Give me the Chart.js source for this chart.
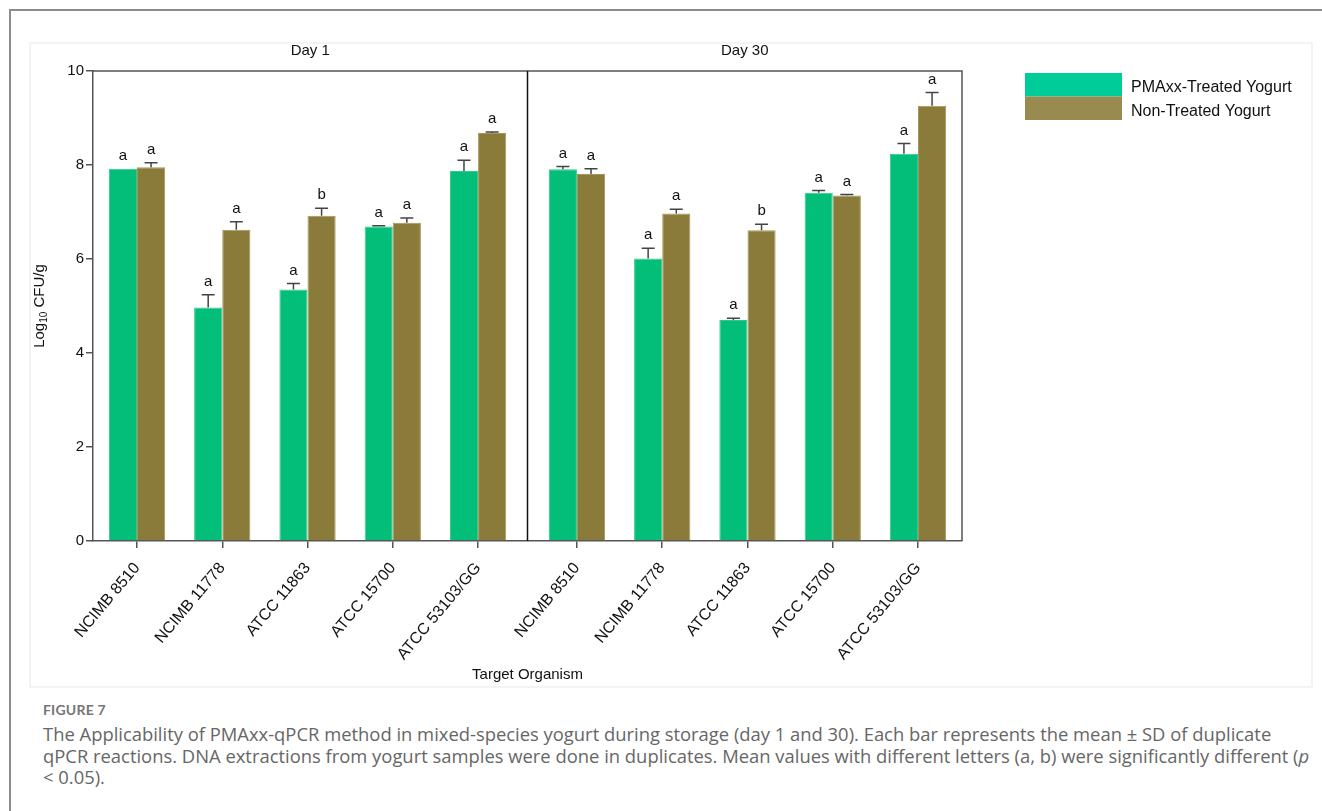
<!DOCTYPE html>
<html>
<head>
<meta charset="utf-8">
<script src="https://cdn.jsdelivr.net/npm/chart.js@4.4.1/dist/chart.umd.min.js"></script>
<style>
  html, body { margin: 0; padding: 0; background: #fff; }
  body { width: 1322px; height: 811px; position: relative; overflow: hidden; }
  #frame { position: absolute; left: 9px; top: 9px; right: -10px; bottom: -10px;
           border-left: 2px solid #8c8c8c; border-top: 2px solid #8c8c8c; }
  #panel { position: absolute; left: 29px; top: 42px; width: 1280px; height: 642px;
           border: 2px solid #f3f3f3; background: #fff; }
  #chart { position: absolute; left: 0; top: 0; }
  #caption { position: absolute; left: 43px; top: 700px; font-family: "Open Sans", Lato, sans-serif;
             color: #666; white-space: nowrap; }
  #caption .fig { font-family: Lato, sans-serif; font-weight: bold; font-size: 14px; color: #767676; line-height: 20px; letter-spacing: 0.2px; }
  #caption .txt { font-size: 18.4px; line-height: 21.5px; margin-top: 3px; }
</style>
</head>
<body>
<div id="frame"></div>
<div id="panel"></div>
<canvas id="chart" width="1322" height="700"></canvas>
<div id="caption">
  <div class="fig">FIGURE 7</div>
  <div class="txt">The Applicability of PMAxx-qPCR method in mixed-species yogurt during storage (day 1 and 30). Each bar represents the mean ± SD of duplicate<br>qPCR reactions. DNA extractions from yogurt samples were done in duplicates. Mean values with different letters (a, b) were significantly different (<i>p</i><br>&lt; 0.05).</div>
</div>
<script>
// --- Data ---
const days = ['Day 1', 'Day 30'];
const strains = ['NCIMB 8510', 'NCIMB 11778', 'ATCC 11863', 'ATCC 15700', 'ATCC 53103/GG'];
const seriesNames = ['PMAxx-Treated Yogurt', 'Non-Treated Yogurt'];

// day 1 (5 strains) then day 30 (5 strains)
const pmaxxMean = [7.92, 4.97, 5.35, 6.69, 7.87, 7.91, 6.01, 4.70, 7.41, 8.24];
const pmaxxSD   = [0.00, 0.27, 0.13, 0.02, 0.23, 0.06, 0.22, 0.04, 0.05, 0.22];
const nonMean   = [7.95, 6.62, 6.92, 6.77, 8.68, 7.81, 6.97, 6.61, 7.35, 9.26];
const nonSD     = [0.10, 0.17, 0.16, 0.10, 0.02, 0.11, 0.09, 0.13, 0.02, 0.28];
const pmaxxLetters = ['a', 'a', 'a', 'a', 'a', 'a', 'a', 'a', 'a', 'a'];
const nonLetters   = ['a', 'a', 'b', 'a', 'a', 'a', 'a', 'b', 'a', 'a'];

const yTicks = [0, 2, 4, 6, 8, 10];

// --- Layout helpers ---
const labels = days.flatMap(() => strains);
const dayGap = 0.16;      // extra space between the two day panels (in category units)
const edge = 0.516;       // space from plot edge to first / last bar group
const xPos = labels.map((_, i) => i + (i >= strains.length ? dayGap : 0));

const GREEN = '#03be78', BROWN = '#8b7b3a';
const LEGEND_GREEN = '#00cc99', LEGEND_BROWN = '#998a4f';
const FONT = '"Liberation Sans", Arial, sans-serif';

const toPoints = arr => arr.map((v, i) => ({ x: xPos[i], y: v }));

const annotate = {
    id: 'annotate',
    afterDatasetsDraw(chart) {
        const { ctx, chartArea: a, scales: { x, y } } = chart;
        ctx.save();

        // error bars (upper whisker) and significance letters
        chart.data.datasets.forEach((ds, di) => {
            const meta = chart.getDatasetMeta(di);
            meta.data.forEach((bar, i) => {
                const sd = ds.sd[i];
                const top = y.getPixelForValue(ds.data[i].y + sd);
                if (sd > 0) {
                    ctx.strokeStyle = '#444';
                    ctx.lineWidth = 1.5;
                    ctx.beginPath();
                    ctx.moveTo(bar.x, bar.y);
                    ctx.lineTo(bar.x, top);
                    ctx.moveTo(bar.x - 6.5, top);
                    ctx.lineTo(bar.x + 6.5, top);
                    ctx.stroke();
                }
                ctx.fillStyle = '#111';
                ctx.font = '15px ' + FONT;
                ctx.textAlign = 'center';
                ctx.textBaseline = 'middle';
                ctx.fillText(ds.letters[i], bar.x, top - 13);
            });
        });

        // plot frame (top + right) and day divider
        ctx.strokeStyle = '#555';
        ctx.lineWidth = 1.5;
        ctx.beginPath();
        ctx.moveTo(a.left, a.top);
        ctx.lineTo(a.right, a.top);
        ctx.lineTo(a.right, a.bottom);
        ctx.stroke();

        const divX = x.getPixelForValue((xPos[strains.length - 1] + xPos[strains.length]) / 2);
        ctx.strokeStyle = '#111';
        ctx.beginPath();
        ctx.moveTo(divX, a.top);
        ctx.lineTo(divX, a.bottom);
        ctx.stroke();

        // day titles
        ctx.fillStyle = '#111';
        ctx.font = '15px ' + FONT;
        ctx.textAlign = 'center';
        ctx.textBaseline = 'middle';
        ctx.fillText(days[0], (a.left + divX) / 2, a.top - 20);
        ctx.fillText(days[1], (divX + a.right) / 2, a.top - 20);

        // y axis title with subscript: Log10 CFU/g
        ctx.save();
        ctx.translate(40, (a.top + a.bottom) / 2);
        ctx.rotate(-Math.PI / 2);
        ctx.textAlign = 'left';
        ctx.textBaseline = 'middle';
        const big = '15px ' + FONT, small = '10px ' + FONT;
        ctx.font = big;
        const w1 = ctx.measureText('Log').width, w3 = ctx.measureText(' CFU/g').width;
        ctx.font = small;
        const w2 = ctx.measureText('10').width;
        let tx = -(w1 + w2 + w3) / 2;
        ctx.font = big;
        ctx.fillText('Log', tx, 0);
        tx += w1;
        ctx.font = small;
        ctx.fillText('10', tx, 4);
        tx += w2;
        ctx.font = big;
        ctx.fillText(' CFU/g', tx, 0);
        ctx.restore();

        // legend
        const lx = a.right + 63, ly = a.top + 2, sw = 97, sh = 23.5;
        [LEGEND_GREEN, LEGEND_BROWN].forEach((c, i) => {
            ctx.fillStyle = c;
            ctx.fillRect(lx, ly + i * sh, sw, sh);
            ctx.fillStyle = '#111';
            ctx.font = '16px ' + FONT;
            ctx.textAlign = 'left';
            ctx.textBaseline = 'middle';
            ctx.fillText(seriesNames[i], lx + sw + 9, ly + i * sh + sh / 2 + 3);
        });

        ctx.restore();
    }
};

document.addEventListener('DOMContentLoaded', () => {
    Chart.defaults.font.family = FONT;
    Chart.defaults.color = '#111';

    const ctx = document.getElementById('chart').getContext('2d');
    new Chart(ctx, {
        type: 'bar',
        data: {
            datasets: [{
                label: seriesNames[0],
                data: toPoints(pmaxxMean),
                sd: pmaxxSD,
                letters: pmaxxLetters,
                backgroundColor: GREEN,
                borderColor: '#2fc98c',
                borderWidth: 1
            }, {
                label: seriesNames[1],
                data: toPoints(nonMean),
                sd: nonSD,
                letters: nonLetters,
                backgroundColor: BROWN,
                borderColor: '#a4965a',
                borderWidth: 1
            }]
        },
        options: {
            responsive: false,
            animation: false,
            categoryPercentage: 0.66,
            barPercentage: 1.0,
            layout: { padding: { left: 0, top: 71, right: 360, bottom: 0 } },
            plugins: {
                legend: { display: false },
                tooltip: { enabled: false }
            },
            scales: {
                x: {
                    type: 'linear',
                    offset: false,
                    min: xPos[0] - edge,
                    max: xPos[xPos.length - 1] + edge,
                    afterBuildTicks: scale => { scale.ticks = xPos.map(v => ({ value: v })); },
                    afterFit: scale => { scale.height = 159; },
                    ticks: {
                        autoSkip: false,
                        minRotation: 50,
                        maxRotation: 50,
                        padding: 11,
                        color: '#111',
                        font: { size: 16 },
                        callback: (value, index) => labels[index]
                    },
                    grid: { display: true, offset: false, drawOnChartArea: false, drawTicks: true, tickLength: 7, color: '#555', lineWidth: 1.5 },
                    border: { display: true, color: '#555', width: 1.5 },
                    title: { display: true, text: 'Target Organism', font: { size: 15 }, color: '#111', padding: { top: 0, bottom: 16 } }
                },
                y: {
                    min: 0,
                    max: 10,
                    afterBuildTicks: scale => { scale.ticks = yTicks.map(v => ({ value: v })); },
                    afterFit: scale => { scale.width = 93; },
                    ticks: { padding: 2, color: '#111', font: { size: 15 } },
                    grid: { display: true, drawOnChartArea: false, drawTicks: true, tickLength: 7, color: '#555', lineWidth: 1.5 },
                    border: { display: true, color: '#555', width: 1.5 },
                    title: { display: false }
                }
            }
        },
        plugins: [annotate]
    });
});
</script>
</body>
</html>
